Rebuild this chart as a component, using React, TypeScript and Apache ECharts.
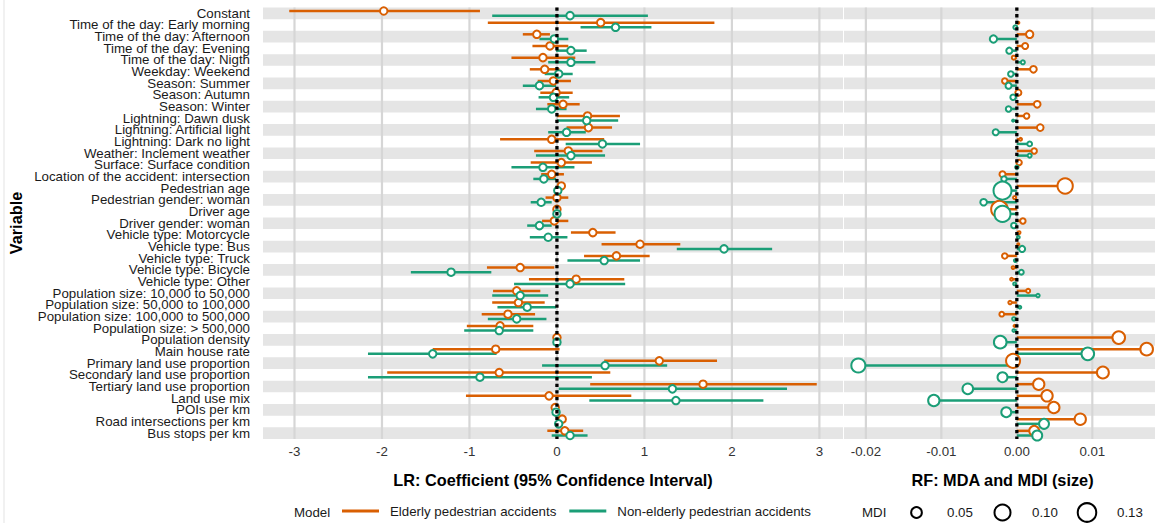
import React, { useEffect, useRef } from "react";
import * as echarts from "echarts";

const FONT = "'Liberation Sans', Arial, Helvetica, sans-serif";
const ORANGE = "#D95F02";
const GREEN = "#1B9E77";
const NAME_E = "Elderly pedestrian accidents";
const NAME_N = "Non-elderly pedestrian accidents";

const variables = [
  "Constant",
  "Time of the day: Early morning",
  "Time of the day: Afternoon",
  "Time of the day: Evening",
  "Time of the day: Nigth",
  "Weekday: Weekend",
  "Season: Summer",
  "Season: Autumn",
  "Season: Winter",
  "Lightning: Dawn dusk",
  "Lightning: Artificial light",
  "Lightning: Dark no light",
  "Weather: Inclement weather",
  "Surface: Surface condition",
  "Location of the accident: intersection",
  "Pedestrian age",
  "Pedestrian gender: woman",
  "Driver age",
  "Driver gender: woman",
  "Vehicle type: Motorcycle",
  "Vehicle type: Bus",
  "Vehicle type: Truck",
  "Vehicle type: Bicycle",
  "Vehicle type: Other",
  "Population size: 10,000 to 50,000",
  "Population size: 50,000 to 100,000",
  "Population size: 100,000 to 500,000",
  "Population size: > 500,000",
  "Population density",
  "Main house rate",
  "Primary land use proportion",
  "Secondary land use proportion",
  "Tertiary land use proportion",
  "Land use mix",
  "POIs per km",
  "Road intersections per km",
  "Bus stops per km",
];

// LR: coefficient and 95% CI
const lrElderlyEst = [-1.98, 0.5, -0.23, -0.08, -0.16, -0.14, -0.04, -0.01, 0.07, 0.35, 0.36, -0.06, 0.13, 0.05, -0.06, 0.05, 0.0, 0.0, -0.03, 0.41, 0.95, 0.68, -0.42, 0.22, -0.46, -0.44, -0.56, -0.65, 0.0, -0.7, 1.17, -0.66, 1.67, -0.09, -0.02, 0.06, 0.09];
const lrElderlyLo = [-3.06, -0.79, -0.39, -0.28, -0.52, -0.31, -0.22, -0.19, -0.11, 0.0, 0.11, -0.65, -0.26, -0.3, -0.18, 0.03, -0.13, -0.01, -0.17, 0.16, 0.51, 0.31, -0.8, -0.32, -0.73, -0.74, -0.86, -1.03, -0.01, -1.42, 0.54, -1.94, 0.38, -1.04, -0.04, 0.03, -0.11];
const lrElderlyHi = [-0.88, 1.8, -0.08, 0.13, 0.21, 0.03, 0.16, 0.18, 0.26, 0.72, 0.63, 0.54, 0.52, 0.4, 0.08, 0.07, 0.13, 0.01, 0.13, 0.67, 1.41, 1.06, -0.03, 0.77, -0.19, -0.14, -0.25, -0.27, 0.01, 0.03, 1.83, 0.61, 2.97, 0.85, 0.0, 0.09, 0.3];
const lrNonEst = [0.15, 0.67, -0.03, 0.16, 0.16, 0.02, -0.2, -0.04, -0.06, 0.34, 0.11, 0.52, 0.16, -0.16, -0.15, 0.01, -0.18, 0.0, -0.2, -0.1, 1.91, 0.54, -1.21, 0.15, -0.42, -0.34, -0.46, -0.66, 0.0, -1.42, 0.55, -0.88, 1.32, 1.36, -0.01, 0.02, 0.15];
const lrNonLo = [-0.74, 0.27, -0.2, -0.01, -0.1, -0.14, -0.39, -0.21, -0.24, 0.0, -0.1, 0.1, -0.24, -0.52, -0.27, -0.01, -0.3, -0.01, -0.34, -0.31, 1.37, 0.12, -1.67, -0.49, -0.74, -0.68, -0.79, -1.06, -0.01, -2.16, -0.17, -2.16, 0.02, 0.37, -0.02, 0.0, -0.06];
const lrNonHi = [1.04, 1.08, 0.13, 0.34, 0.44, 0.18, -0.01, 0.14, 0.11, 0.7, 0.33, 0.95, 0.55, 0.2, -0.01, 0.03, -0.06, 0.01, -0.06, 0.12, 2.46, 0.95, -0.75, 0.78, -0.1, -0.01, -0.12, -0.27, 0.01, -0.69, 1.26, 0.4, 2.63, 2.36, 0.01, 0.04, 0.35];

// RF: MDA (position) and MDI (size)
const rfElderlyMDA = [null, 0.0002, 0.0017, 0.0011, -0.0004, 0.0022, -0.0016, 0.0002, 0.0027, 0.0013, 0.0031, 0.0005, 0.0023, 0.0003, -0.0019, 0.0064, -0.0003, -0.0023, 0.0008, 0.0003, 0.0002, -0.0016, -0.0005, -0.0007, 0.0015, -0.0009, -0.002, -0.0003, 0.0135, 0.0172, -0.0005, 0.0114, 0.0029, 0.004, 0.0049, 0.0084, 0.0023];
const rfElderlyMDI = [null, 0.005, 0.027, 0.02, 0.011, 0.023, 0.017, 0.02, 0.023, 0.017, 0.023, 0.007, 0.017, 0.017, 0.02, 0.092, 0.008, 0.107, 0.017, 0.007, 0.005, 0.017, 0.007, 0.007, 0.011, 0.009, 0.014, 0.004, 0.066, 0.066, 0.079, 0.06, 0.055, 0.055, 0.055, 0.055, 0.044];
const rfNonMDA = [null, -0.0002, -0.0031, -0.001, 0.0008, -0.0008, -0.0011, -0.0005, -0.0011, -0.0005, -0.0028, 0.0017, 0.0017, 0.0, -0.0017, -0.0019, -0.0044, -0.0019, -0.0004, 0.0002, 0.0007, -0.0002, 0.0006, -0.0003, 0.0028, 0.0004, -0.0004, -0.0004, -0.0022, 0.0094, -0.021, -0.0019, -0.0065, -0.011, -0.0014, 0.0036, 0.0027];
const rfNonMDI = [null, 0.011, 0.027, 0.02, 0.011, 0.017, 0.02, 0.017, 0.017, 0.005, 0.02, 0.014, 0.011, 0.009, 0.017, 0.123, 0.023, 0.1, 0.017, 0.007, 0.02, 0.007, 0.014, 0.007, 0.009, 0.007, 0.009, 0.007, 0.066, 0.066, 0.079, 0.044, 0.049, 0.055, 0.044, 0.044, 0.044];

const lrTicks = [-3, -2, -1, 0, 1, 2, 3];
const rfTicks = [-0.02, -0.01, 0, 0.01];
const mdiLegend = [0.05, 0.1, 0.13];

const DODGE = 0.2;

function diam(mdi: number) {
  return 57 * Math.sqrt(mdi);
}

function bandSeries(xi: number, yi: number) {
  return {
    type: "custom",
    name: "bands",
    xAxisIndex: xi,
    yAxisIndex: yi,
    z: 1,
    silent: true,
    data: variables.map((_, i) => [0, i]).filter((_, i) => i % 2 === 0),
    encode: { x: 0, y: 1 },
    renderItem: (params: any, api: any) => {
      const cs = params.coordSys;
      const i = api.value(1);
      const a = api.coord([0, i - 0.5])[1];
      const b = api.coord([0, i + 0.5])[1];
      return {
        type: "rect",
        shape: { x: cs.x, y: Math.min(a, b), width: cs.width, height: Math.abs(b - a) },
        style: { fill: "#e5e5e5" },
      };
    },
  };
}

function vlineSeries(xi: number, yi: number, ticks: number[], style: any, z: number) {
  return {
    type: "custom",
    name: "vline",
    xAxisIndex: xi,
    yAxisIndex: yi,
    z,
    silent: true,
    data: ticks.map((t) => [t, 0]),
    encode: { x: 0, y: 1 },
    renderItem: (params: any, api: any) => {
      const cs = params.coordSys;
      const x = api.coord([api.value(0), 0])[0];
      return {
        type: "line",
        shape: { x1: x, y1: cs.y, x2: x, y2: cs.y + cs.height },
        style,
      };
    },
  };
}

function lrLines(name: string, color: string, est: number[], lo: number[], hi: number[], off: number) {
  return {
    type: "custom",
    name,
    xAxisIndex: 0,
    yAxisIndex: 1,
    z: 3,
    itemStyle: { color },
    data: est.map((e, i) => [e, i + off, lo[i], hi[i]]),
    encode: { x: [0, 2, 3], y: 1 },
    renderItem: (params: any, api: any) => {
      const y = api.value(1);
      const p0 = api.coord([api.value(2), y]);
      const p1 = api.coord([api.value(3), y]);
      return {
        type: "line",
        shape: { x1: p0[0], y1: p0[1], x2: p1[0], y2: p1[1] },
        style: { stroke: color, lineWidth: 2.5 },
      };
    },
  };
}

function lrPoints(name: string, color: string, est: number[], off: number) {
  return {
    type: "scatter",
    name,
    xAxisIndex: 0,
    yAxisIndex: 1,
    z: 4,
    symbol: "circle",
    symbolSize: 7.5,
    itemStyle: { color: "#ffffff", borderColor: color, borderWidth: 2, opacity: 1 },
    data: est.map((e, i) => [e, i + off]),
  };
}

function rfStems(name: string, color: string, mda: (number | null)[], off: number) {
  const data: number[][] = [];
  mda.forEach((m, i) => {
    if (m !== null) data.push([m, i + off]);
  });
  return {
    type: "custom",
    name,
    xAxisIndex: 1,
    yAxisIndex: 2,
    z: 3,
    itemStyle: { color },
    data,
    encode: { x: 0, y: 1 },
    renderItem: (params: any, api: any) => {
      const y = api.value(1);
      const p0 = api.coord([0, y]);
      const p1 = api.coord([api.value(0), y]);
      return {
        type: "line",
        shape: { x1: p0[0], y1: p0[1], x2: p1[0], y2: p1[1] },
        style: { stroke: color, lineWidth: 2.5 },
      };
    },
  };
}

function rfPoints(name: string, color: string, mda: (number | null)[], mdi: (number | null)[], off: number) {
  const data: number[][] = [];
  mda.forEach((m, i) => {
    if (m !== null && mdi[i] !== null) data.push([m, i + off, mdi[i] as number]);
  });
  return {
    type: "scatter",
    name,
    xAxisIndex: 1,
    yAxisIndex: 2,
    z: 4,
    symbol: "circle",
    symbolSize: (v: number[]) => Math.max(diam(v[2]) - 2, 2),
    itemStyle: { color: "#ffffff", borderColor: color, borderWidth: 2, opacity: 1 },
    data,
  };
}

export default function App() {
  const ref = useRef<HTMLDivElement>(null);

  useEffect(() => {
    document.body.style.margin = "0";
    if (!ref.current) return;
    const chart = echarts.init(ref.current, undefined, { renderer: "svg" });

    const gridTop = 7.5;
    const gridBottom = 523 - 439;

    const legendY = 512.5;
    const mdiCx = [916.5, 1002.5, 1087];
    const mdiTx = [947, 1032, 1117];

    const graphic: any[] = [
      {
        type: "line",
        shape: { x1: 4, y1: 0, x2: 4, y2: 523 },
        style: { stroke: "#e3e3e3", lineWidth: 1 },
        silent: true,
      },
      {
        type: "text",
        x: 16,
        y: 223,
        rotation: Math.PI / 2,
        style: {
          text: "Variable",
          fontFamily: FONT,
          fontSize: 16.3,
          fontWeight: "bold",
          fill: "#000",
          align: "center",
          verticalAlign: "middle",
        },
      },
      {
        type: "text",
        x: 294,
        y: legendY,
        style: { text: "Model", fontFamily: FONT, fontSize: 13.3, fill: "#1a1a1a", align: "left", verticalAlign: "middle" },
      },
      {
        type: "text",
        x: 862,
        y: legendY,
        style: { text: "MDI", fontFamily: FONT, fontSize: 13.3, fill: "#1a1a1a", align: "left", verticalAlign: "middle" },
      },
    ];
    mdiLegend.forEach((v, k) => {
      graphic.push({
        type: "circle",
        shape: { cx: mdiCx[k], cy: legendY, r: diam(v) / 2 - 1 },
        style: { fill: "#fff", stroke: "#000", lineWidth: 2 },
      });
      graphic.push({
        type: "text",
        x: mdiTx[k],
        y: legendY,
        style: { text: v.toFixed(2), fontFamily: FONT, fontSize: 13.3, fill: "#1a1a1a", align: "left", verticalAlign: "middle" },
      });
    });

    const option: any = {
      animation: false,
      backgroundColor: "#ffffff",
      textStyle: { fontFamily: FONT },
      grid: [
        { left: 263, width: 580, top: gridTop, bottom: gridBottom, outerBoundsMode: "none", containLabel: false },
        { left: 844, width: 317, top: gridTop, bottom: gridBottom, outerBoundsMode: "none", containLabel: false },
      ],
      xAxis: [
        {
          type: "value",
          gridIndex: 0,
          min: -3.36,
          max: 3.27,
          axisLine: { show: false },
          axisTick: { show: false },
          splitLine: { show: false },
          axisLabel: {
            fontSize: 13.3,
            color: "#333",
            fontFamily: FONT,
            margin: 6,
            formatter: (v: number) => (Math.abs(v - Math.round(v)) < 1e-9 ? String(Math.round(v)) : ""),
          },
          name: "LR: Coefficient (95% Confidence Interval)",
          nameLocation: "middle",
          nameGap: 33,
          nameTextStyle: { fontSize: 16.3, fontWeight: "bold", color: "#000", fontFamily: FONT },
        },
        {
          type: "value",
          gridIndex: 1,
          min: -0.0229,
          max: 0.0191,
          axisLine: { show: false },
          axisTick: { show: false },
          splitLine: { show: false },
          axisLabel: {
            fontSize: 13.3,
            color: "#333",
            fontFamily: FONT,
            margin: 6,
            formatter: (v: number) => {
              const c = v * 100;
              return Math.abs(c - Math.round(c)) < 1e-6 ? (Math.round(c) / 100).toFixed(2) : "";
            },
          },
          name: "RF: MDA and MDI (size)",
          nameLocation: "middle",
          nameGap: 33,
          nameTextStyle: { fontSize: 16.3, fontWeight: "bold", color: "#000", fontFamily: FONT },
        },
      ],
      yAxis: [
        {
          type: "category",
          gridIndex: 0,
          data: variables,
          inverse: true,
          axisLine: { show: false },
          axisTick: { show: false },
          splitLine: { show: false },
          axisLabel: {
            interval: 0,
            fontSize: 13.3,
            lineHeight: 11.5,
            color: "#1a1a1a",
            fontFamily: FONT,
            margin: 13,
          },
        },
        { type: "value", gridIndex: 0, min: -0.5, max: 36.5, inverse: true, show: false },
        { type: "value", gridIndex: 1, min: -0.5, max: 36.5, inverse: true, show: false },
      ],
      legend: {
        left: 342,
        top: 504.5,
        padding: 0,
        itemWidth: 37,
        itemHeight: 3,
        itemGap: 13,
        icon: "rect",
        selectedMode: false,
        data: [NAME_E, NAME_N],
        textStyle: { fontSize: 13.3, color: "#1a1a1a", fontFamily: FONT, padding: [0, 0, 0, 6] },
      },
      graphic,
      series: [
        bandSeries(0, 1),
        bandSeries(1, 2),
        vlineSeries(0, 1, lrTicks, { stroke: "#d6d6d6", lineWidth: 2.2 }, 2),
        vlineSeries(1, 2, rfTicks, { stroke: "#d6d6d6", lineWidth: 2.2 }, 2),
        lrLines(NAME_E, ORANGE, lrElderlyEst, lrElderlyLo, lrElderlyHi, -DODGE),
        lrLines(NAME_N, GREEN, lrNonEst, lrNonLo, lrNonHi, DODGE),
        lrPoints(NAME_E, ORANGE, lrElderlyEst, -DODGE),
        lrPoints(NAME_N, GREEN, lrNonEst, DODGE),
        rfStems(NAME_E, ORANGE, rfElderlyMDA, -DODGE),
        rfStems(NAME_N, GREEN, rfNonMDA, DODGE),
        rfPoints(NAME_E, ORANGE, rfElderlyMDA, rfElderlyMDI, -DODGE),
        rfPoints(NAME_N, GREEN, rfNonMDA, rfNonMDI, DODGE),
        vlineSeries(0, 1, [0], { stroke: "#000", lineWidth: 3.3, lineDash: [3.3, 3.3] }, 6),
        vlineSeries(1, 2, [0], { stroke: "#000", lineWidth: 3.3, lineDash: [3.3, 3.3] }, 6),
      ],
    };

    chart.setOption(option);
    return () => chart.dispose();
  }, []);

  return <div ref={ref} style={{ width: 1155, height: 523 }} />;
}
